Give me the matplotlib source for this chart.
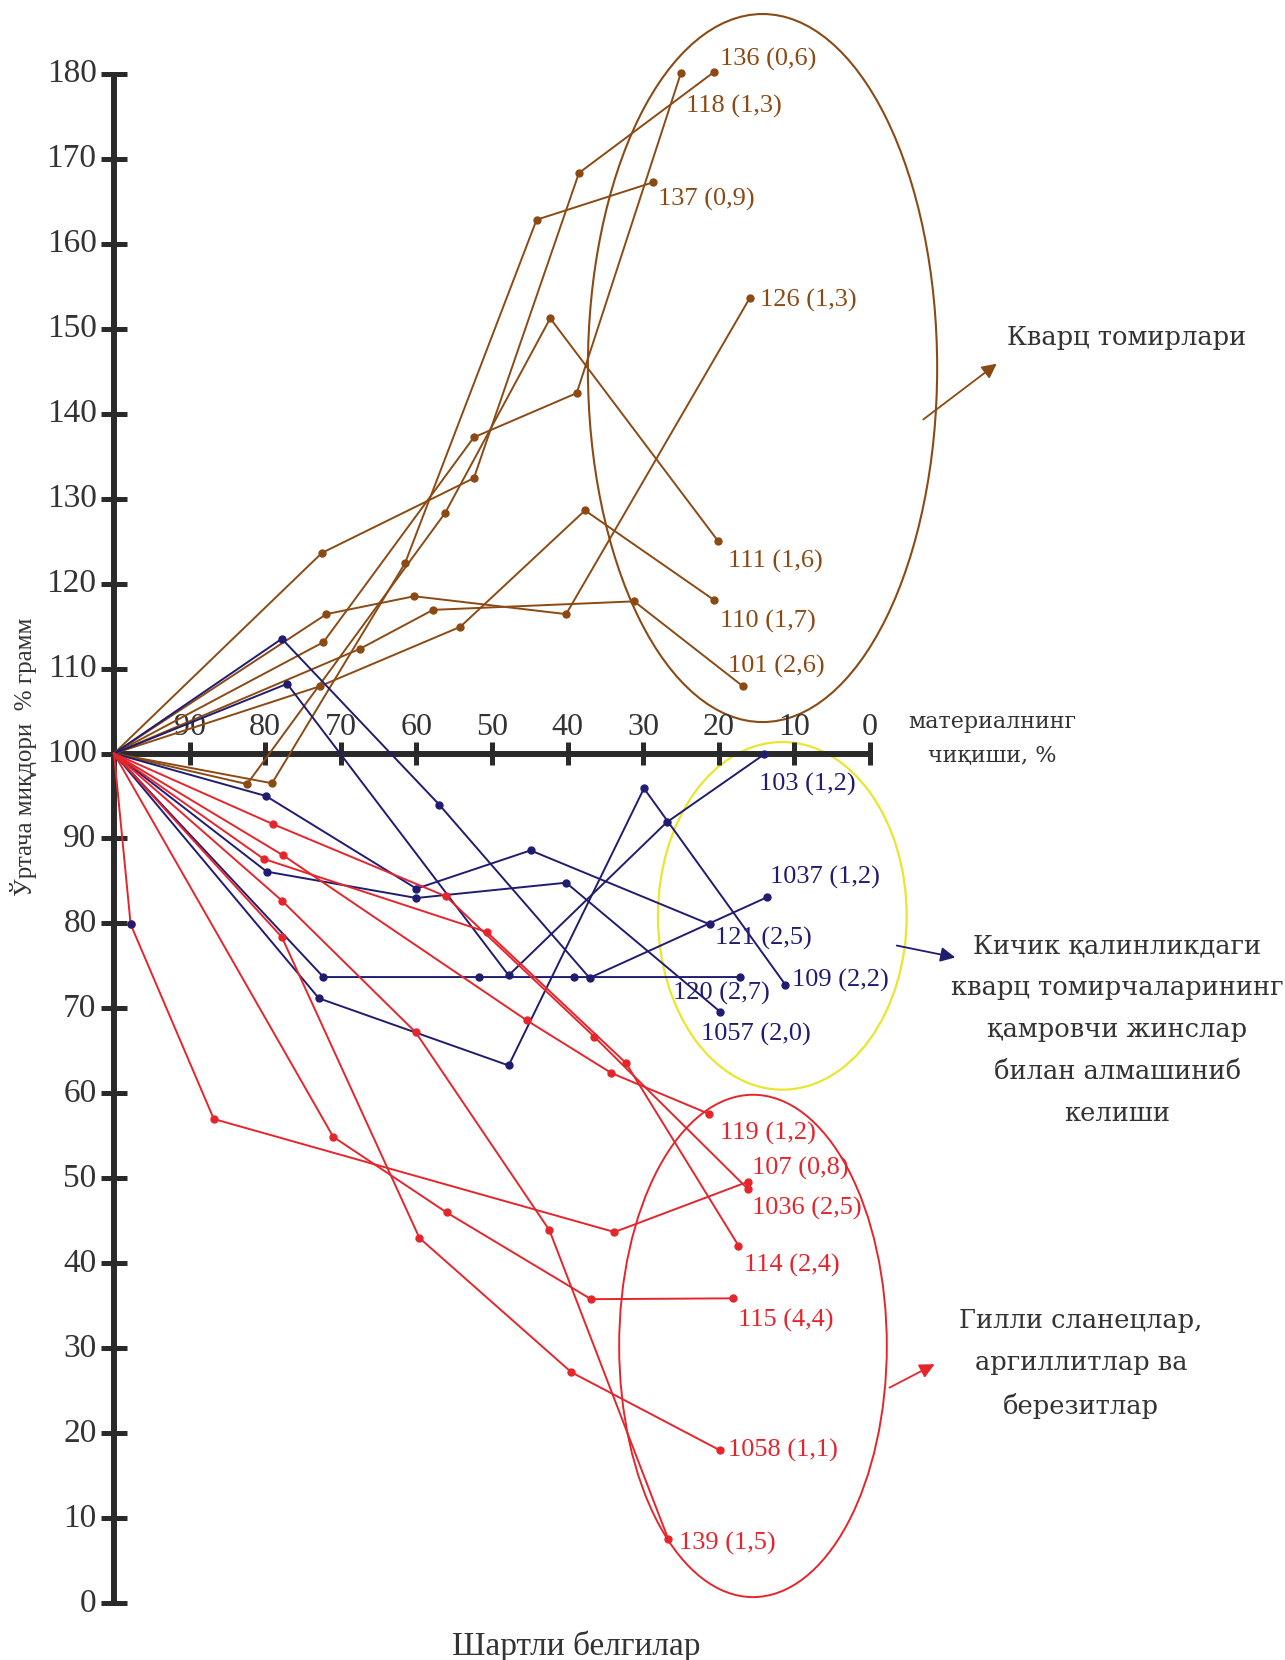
import matplotlib.pyplot as plt
from matplotlib.patches import Ellipse

# Кварц томирлари (жигарранг)
quartz_names = ["136 (0,6)", "118 (1,3)", "137 (0,9)", "126 (1,3)", "111 (1,6)", "110 (1,7)", "101 (2,6)"]
quartz_x = [
    [100, 72.5, 52.4, 38.5, 20.6],
    [100, 72.3, 52.4, 38.8, 25.0],
    [100, 79.1, 61.5, 44.1, 28.7],
    [100, 71.9, 60.3, 40.2, 15.9],
    [100, 82.4, 56.2, 42.3, 20.1],
    [100, 72.8, 54.2, 37.7, 20.7],
    [100, 67.5, 57.8, 31.2, 16.8],
]
quartz_y = [
    [100, 123.6, 132.4, 168.3, 180.2],
    [100, 113.1, 137.2, 142.4, 180.1],
    [100, 96.5, 122.4, 162.8, 167.2],
    [100, 116.4, 118.5, 116.4, 153.6],
    [100, 96.4, 128.3, 151.2, 125.0],
    [100, 107.9, 114.9, 128.6, 118.1],
    [100, 112.3, 116.9, 117.9, 107.9],
]

# Кичик қалинликдаги кварц томирчалари (кўк)
veinlet_names = ["1037 (1,2)", "103 (1,2)", "121 (2,5)", "1057 (2,0)", "120 (2,7)", "109 (2,2)"]
veinlet_x = [
    [100, 77.8, 57.0, 37.1, 13.6],
    [100, 77.1, 47.8, 26.9, 14.0],
    [100, 79.9, 60.0, 44.9, 21.2],
    [100, 79.8, 60.0, 40.2, 19.8],
    [100, 72.3, 51.7, 39.1, 17.2],
    [100, 72.9, 47.8, 29.9, 11.2],
]
veinlet_y = [
    [100, 113.5, 94.0, 73.6, 83.1],
    [100, 108.2, 73.9, 91.9, 99.9],
    [100, 95.0, 84.1, 88.6, 79.9],
    [100, 86.1, 83.0, 84.8, 69.6],
    [100, 73.7, 73.7, 73.7, 73.7],
    [100, 71.2, 63.3, 95.9, 72.8],
]

# Гилли сланецлар, аргиллитлар ва березитлар (қизил)
shale_names = ["107 (0,8)", "1036 (2,5)", "119 (1,2)", "114 (2,4)", "115 (4,4)", "1058 (1,1)", "139 (1,5)"]
shale_x = [
    [100, 97.8, 86.8, 33.8, 16.2],
    [100, 79.0, 56.1, 36.5, 16.2],
    [100, 77.6, 45.4, 34.2, 21.3],
    [100, 80.2, 50.7, 32.3, 17.4],
    [100, 71.0, 56.0, 36.9, 18.1],
    [100, 77.8, 59.6, 39.5, 19.8],
    [100, 77.8, 60.1, 42.4, 26.7],
]
shale_y = [
    [100, 79.9, 57.0, 43.7, 49.6],
    [100, 91.7, 83.2, 66.7, 48.8],
    [100, 88.0, 68.6, 62.4, 57.6],
    [100, 87.6, 79.0, 63.6, 42.1],
    [100, 54.9, 46.0, 35.8, 35.9],
    [100, 78.4, 43.0, 27.2, 18.0],
    [100, 82.7, 67.2, 43.9, 7.6],
]

x_ticks = [90, 80, 70, 60, 50, 40, 30, 20, 10, 0]
y_ticks = list(range(0, 181, 10))

BROWN = "#8b4a14"
NAVY = "#201c70"
RED = "#e4262c"
YELLOW = "#e8e62e"
AXIS = "#2a2a2a"
TEXT = "#333333"
SERIF = ["Liberation Serif", "DejaVu Serif"]
WIDE = ["DejaVu Serif"]

# label offsets from the last point (points)
label_offset = {
    "136 (0,6)": (4, 9), "118 (1,3)": (3.5, -24), "137 (0,9)": (3.5, -12),
    "126 (1,3)": (7, -1.5), "111 (1,6)": (7, -15), "110 (1,7)": (5, -16),
    "101 (2,6)": (-11, 14),
    "1037 (1,2)": (2, 14), "103 (1,2)": (-4, -22), "121 (2,5)": (4, -10),
    "1057 (2,0)": (-14, -16), "120 (2,7)": (-48, -11.5), "109 (2,2)": (5, 3),
    "107 (0,8)": (3, 9.5), "1036 (2,5)": (3, -14), "119 (1,2)": (8, -14),
    "114 (2,4)": (4, -14.5), "115 (4,4)": (3.5, -16), "1058 (1,1)": (5.5, 0),
    "139 (1,5)": (7.5, -3),
}


def draw_group(ax, names, xs, ys, color):
    """серия чизиқлари, нуқталари ва номлари"""
    for name, x, y in zip(names, xs, ys):
        ax.plot(x, y, color=color, lw=1.4, zorder=3)
        ax.plot(x[1:], y[1:], "o", color=color, ms=5, zorder=4)
        ax.annotate(name, xy=(x[-1], y[-1]), xytext=label_offset[name],
                    textcoords="offset points", ha="left", va="center",
                    color=color, fontsize=19, family=SERIF, zorder=5)


def plot_chart():
    fig = plt.figure(figsize=(12.85, 16.6), dpi=100, facecolor="white")
    ax = fig.add_axes([0, 0, 1, 1])
    ax.set_xlim(115.08, -54.89)  # 100 -> 0 чапдан ўнгга
    ax.set_ylim(-6.65, 188.65)
    ax.axis("off")

    # ўқлар
    ax.plot([100, 100], [0, 180], color=AXIS, lw=4.3, solid_capstyle="butt", zorder=2)
    ax.plot([100, 0], [100, 100], color=AXIS, lw=4.3, solid_capstyle="butt", zorder=2)
    for v in y_ticks:
        ax.plot([101.75, 98.25], [v, v], color=AXIS, lw=3.6, solid_capstyle="butt", zorder=2)
        ax.text(102.3, v, str(v), ha="right", va="center", fontsize=24,
                family=SERIF, color=TEXT)
    for v in x_ticks:
        ax.plot([v, v], [98.7, 101.3], color=AXIS, lw=3.6, solid_capstyle="butt", zorder=2)
        ax.text(v, 101.4, str(v), ha="center", va="bottom", fontsize=23,
                family=SERIF, color=TEXT)

    draw_group(ax, quartz_names, quartz_x, quartz_y, BROWN)
    draw_group(ax, veinlet_names, veinlet_x, veinlet_y, NAVY)
    draw_group(ax, shale_names, shale_x, shale_y, RED)
    # биринчи нуқта кўк рангда
    ax.plot(shale_x[0][1], shale_y[0][1], "o", color=NAVY, ms=5, zorder=6)

    # гуруҳ эллипслари
    ax.add_patch(Ellipse((14.22, 145.35), 46.2, 83.3, fill=False, ec=BROWN, lw=1.5, zorder=1))
    ax.add_patch(Ellipse((11.6, 80.9), 32.9, 40.9, fill=False, ec=YELLOW, lw=1.6, zorder=1))
    ax.add_patch(Ellipse((15.48, 30.3), 35.4, 59.1, fill=False, ec=RED, lw=1.4, zorder=1))

    # стрелкалар
    arrows = [((-6.75, 139.1), (-17.06, 146.06), BROWN),
              ((-3.17, 77.47), (-11.64, 75.94), NAVY),
              ((-2.25, 25.24), (-8.86, 28.3), RED)]
    for tail, head, c in arrows:
        ax.annotate("", xy=head, xytext=tail,
                    arrowprops=dict(arrowstyle="-|>", color=c, lw=1.3, mutation_scale=22))

    # изоҳлар
    ax.text(-33.9, 148.9, "Кварц томирлари", ha="center", va="center",
            fontsize=18.5, family=WIDE, color=TEXT)
    ax.text(-32.7, 67.5, "Кичик қалинликдаги\nкварц томирчаларининг\nқамровчи жинслар\nбилан алмашиниб\nкелиши",
            ha="center", va="center", fontsize=18.5, family=WIDE, color=TEXT,
            linespacing=1.85)
    ax.text(-27.9, 28.2, "Гилли сланецлар,\nаргиллитлар ва\nберезитлар", ha="center", va="center",
            fontsize=18.5, family=WIDE, color=TEXT, linespacing=1.85)
    ax.text(-16.2, 101.7, "материалнинг\nчиқиши, %", ha="center", va="center",
            fontsize=16, family=WIDE, color=TEXT, linespacing=1.75)
    ax.text(112.0, 99.6, "Ўртача миқдори  % грамм", rotation=90, ha="center", va="center",
            fontsize=18, family=SERIF, color=TEXT)
    ax.text(38.8, -6.05, "Шартли белгилар", ha="center", va="baseline",
            fontsize=24, family=SERIF, color=TEXT)

    plt.savefig("out.png", dpi=100)


if __name__ == "__main__":
    plot_chart()
